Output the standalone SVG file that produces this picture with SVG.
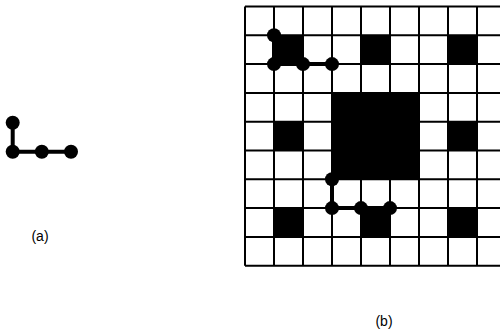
<svg xmlns="http://www.w3.org/2000/svg" width="500" height="335" viewBox="0 0 500 335">
<style>
.grid{stroke:#000;stroke-width:2;fill:none}
.cell{fill:#000}
.bead{fill:#000}
.bond{stroke:#000;stroke-width:4;fill:none}
.lbl{font-family:"Liberation Sans",Arial,sans-serif;font-size:14px;fill:#000}
</style>
<rect width="500" height="335" fill="#fff"/>
<g id="lattice">
<g class="cell">
<rect x="274" y="35.3" width="29" height="28.8"/>
<rect x="361" y="35.3" width="29" height="28.8"/>
<rect x="448" y="35.3" width="29" height="28.8"/>
<rect x="274" y="121.7" width="29" height="28.8"/>
<rect x="448" y="121.7" width="29" height="28.8"/>
<rect x="332" y="92.9" width="87" height="86.4"/>
<rect x="274" y="208.1" width="29" height="28.8"/>
<rect x="361" y="208.1" width="29" height="28.8"/>
<rect x="448" y="208.1" width="29" height="28.8"/>
</g>
<path class="grid" d="M245 6.5V265.7M274 6.5V265.7M303 6.5V265.7M332 6.5V265.7M361 6.5V265.7M390 6.5V265.7M419 6.5V265.7M448 6.5V265.7M477 6.5V265.7M506 6.5V265.7M245 6.5H506M245 35.3H506M245 64.1H506M245 92.9H506M245 121.7H506M245 150.5H506M245 179.3H506M245 208.1H506M245 236.9H506M245 265.7H506"/>
</g>
<g id="connectors">
<path class="bond" d="M12.7 122.7V151.7H71"/>
<path class="bond" d="M274 35.3V64.1H332"/>
<path class="bond" d="M332 179.3V208.1H390"/>
</g>
<g id="polymer-a">
<circle class="bead" cx="12.7" cy="122.7" r="7"/>
<circle class="bead" cx="12.7" cy="151.7" r="7"/>
<circle class="bead" cx="41.8" cy="151.7" r="7"/>
<circle class="bead" cx="71" cy="151.7" r="7"/>
</g>
<g id="polymer-b1">
<circle class="bead" cx="274" cy="35.3" r="7"/>
<circle class="bead" cx="274" cy="64.1" r="7"/>
<circle class="bead" cx="303" cy="64.1" r="7"/>
<circle class="bead" cx="332" cy="64.1" r="7"/>
</g>
<g id="polymer-b2">
<circle class="bead" cx="332" cy="179.3" r="7"/>
<circle class="bead" cx="332" cy="208.1" r="7"/>
<circle class="bead" cx="361" cy="208.1" r="7"/>
<circle class="bead" cx="390" cy="208.1" r="7"/>
</g>
<g id="label-a"><text class="lbl" x="40" y="241" text-anchor="middle">(a)</text></g>
<g id="label-b"><text class="lbl" x="384" y="326" text-anchor="middle">(b)</text></g>
</svg>
